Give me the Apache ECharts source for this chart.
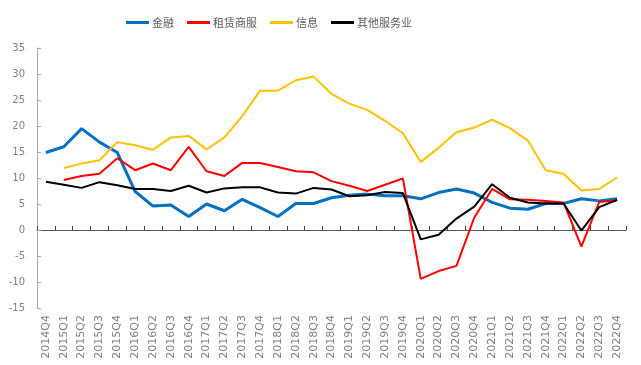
<!DOCTYPE html>
<html><head><meta charset="utf-8">
<script src="https://cdn.jsdelivr.net/npm/echarts@6/dist/echarts.min.js"></script>
<style>html,body{margin:0;padding:0;background:#fff}#c{width:641px;height:365px}</style>
</head><body><div id="c"></div>
<script>
var categories = ['2014Q4','2015Q1','2015Q2','2015Q3','2015Q4','2016Q1','2016Q2','2016Q3','2016Q4','2017Q1','2017Q2','2017Q3','2017Q4','2018Q1','2018Q2','2018Q3','2018Q4','2019Q1','2019Q2','2019Q3','2019Q4','2020Q1','2020Q2','2020Q3','2020Q4','2021Q1','2021Q2','2021Q3','2021Q4','2022Q1','2022Q2','2022Q3','2022Q4'];
var finance = [14.9,16.0,19.5,16.9,14.9,7.4,4.6,4.8,2.6,5.0,3.7,5.9,4.3,2.6,5.1,5.1,6.2,6.7,6.9,6.6,6.6,6.0,7.2,7.9,7.1,5.3,4.2,4.0,5.1,5.1,6.0,5.6,6.0];
var leasing = [null,9.6,10.4,10.8,13.8,11.5,12.8,11.5,16.0,11.3,10.4,12.9,12.9,12.1,11.3,11.1,9.4,8.5,7.5,8.7,9.9,-9.4,-7.9,-6.9,2.4,7.9,5.9,5.8,5.6,5.3,-3.2,5.4,5.7];
var info = [null,11.9,12.8,13.4,16.9,16.3,15.4,17.8,18.1,15.5,17.8,21.9,26.8,26.8,28.8,29.5,26.2,24.3,23.1,21.0,18.6,13.1,15.8,18.8,19.7,21.2,19.6,17.2,11.5,10.8,7.6,7.9,10.1];
var otherServices = [9.3,8.7,8.1,9.2,8.6,7.9,7.9,7.5,8.5,7.2,8.0,8.2,8.2,7.2,7.0,8.1,7.8,6.5,6.7,7.3,7.1,-1.8,-0.9,2.2,4.5,8.8,6.2,5.3,5.1,5.1,-0.1,4.4,5.8];
var seriesNames = ['金融','租赁商服','信息','其他服务业'];
var yTicks = {min:-15, max:35, interval:5};

var chart = echarts.init(document.getElementById('c'), null, {renderer:'canvas'});
var font = 'DejaVu Sans';
function mk(name, data, color, width){
  return {name:name, type:'line', data:data, xAxisIndex:0, yAxisIndex:0,
    symbol:'none', showSymbol:false, connectNulls:false,
    lineStyle:{color:color, width:width}, itemStyle:{color:color}, z:2};
}
chart.setOption({
  animation:false,
  backgroundColor:'#ffffff',
  legend:{
    top:12, left:121, itemWidth:23, itemHeight:3, itemGap:13, icon:'rect',
    textStyle:{fontSize:11, color:'#595959', fontFamily:'Noto Sans CJK SC', padding:[0,0,0,-2]},
    data:seriesNames
  },
  grid:{left:37, right:15, top:48, bottom:57, containLabel:false},
  xAxis:[{
    type:'category', data:categories, position:'bottom', boundaryGap:true,
    axisLine:{show:false, onZero:false}, axisTick:{show:false},
    axisLabel:{rotate:90, interval:0, fontSize:11, color:'#808080', margin:7, fontFamily:font}
  },{
    type:'category', data:categories, position:'top', boundaryGap:true,
    axisLine:{show:true, onZero:true, onZeroAxisIndex:0, lineStyle:{color:'#595959', width:1}},
    axisTick:{show:true, length:4, inside:false, interval:0, lineStyle:{color:'#404040'}},
    axisLabel:{show:false}, splitLine:{show:false}
  }],
  yAxis:[{
    type:'value', min:yTicks.min, max:yTicks.max, interval:yTicks.interval,
    axisLine:{show:true, lineStyle:{color:'#a6a6a6'}},
    axisTick:{show:true, inside:true, length:4, lineStyle:{color:'#a6a6a6'}},
    axisLabel:{fontSize:10, color:'#808080', margin:12, fontFamily:font},
    splitLine:{show:false}
  }],
  series:[
    mk(seriesNames[0], finance, '#0070C0', 3),
    mk(seriesNames[1], leasing, '#FF0000', 2),
    mk(seriesNames[2], info, '#FFC000', 2),
    mk(seriesNames[3], otherServices, '#000000', 2)
  ]
});
</script></body></html>
